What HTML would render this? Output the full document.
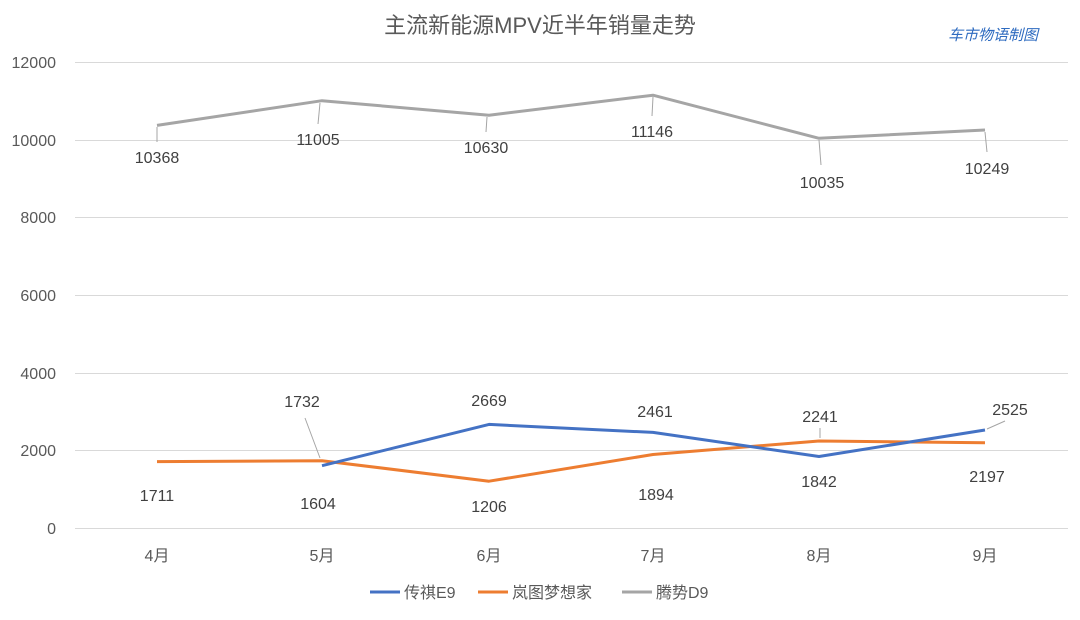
<!DOCTYPE html>
<html><head><meta charset="utf-8"><style>
body{margin:0;background:#fff;}
svg text{font-family:"Liberation Sans","Noto Sans CJK SC",sans-serif;}
</style></head><body>
<svg width="1080" height="615" viewBox="0 0 1080 615" xmlns="http://www.w3.org/2000/svg">
<rect width="1080" height="615" fill="#fff"/>
<text x="540" y="33" text-anchor="middle" font-size="22" fill="#595959">主流新能源MPV近半年销量走势</text>
<text x="993" y="40" text-anchor="middle" font-size="15" fill="#2e6bc0" font-style="italic">车市物语制图</text>
<g stroke="#d9d9d9" stroke-width="1">
<line x1="75" y1="62.5" x2="1068" y2="62.5"/>
<line x1="75" y1="140.5" x2="1068" y2="140.5"/>
<line x1="75" y1="217.5" x2="1068" y2="217.5"/>
<line x1="75" y1="295.5" x2="1068" y2="295.5"/>
<line x1="75" y1="373.5" x2="1068" y2="373.5"/>
<line x1="75" y1="450.5" x2="1068" y2="450.5"/>
<line x1="75" y1="528.5" x2="1068" y2="528.5"/>
</g>
<g font-size="16" fill="#595959" text-anchor="end">
<text x="56" y="68">12000</text><text x="56" y="146">10000</text><text x="56" y="223">8000</text>
<text x="56" y="301">6000</text><text x="56" y="379">4000</text><text x="56" y="456">2000</text><text x="56" y="534">0</text>
</g>
<g font-size="16" fill="#595959" text-anchor="middle">
<text x="157" y="561">4月</text><text x="322" y="561">5月</text><text x="489" y="561">6月</text>
<text x="653" y="561">7月</text><text x="819" y="561">8月</text><text x="985" y="561">9月</text>
</g>
<g stroke="#a5a5a5" stroke-width="1">
<line x1="157" y1="127" x2="157" y2="142"/>
<line x1="320" y1="103" x2="318" y2="124"/>
<line x1="487" y1="117" x2="486" y2="132"/>
<line x1="653" y1="97" x2="652" y2="116"/>
<line x1="819" y1="140" x2="821" y2="165"/>
<line x1="985" y1="132" x2="987" y2="152"/>
<line x1="305" y1="418" x2="320" y2="458"/>
<line x1="987" y1="429" x2="1005" y2="421"/>
<line x1="820" y1="438" x2="820" y2="428"/>
</g>
<polyline fill="none" stroke="#a5a5a5" stroke-width="3" stroke-linejoin="round" points="157,125.4 322,100.7 489,115.2 653,95.2 819,138.3 985,130"/>
<polyline fill="none" stroke="#ed7d31" stroke-width="3" stroke-linejoin="round" points="157,461.6 322,460.7 489,481.2 653,454.5 819,441 985,442.7"/>
<polyline fill="none" stroke="#4472c4" stroke-width="3" stroke-linejoin="round" points="322,465.7 489,424.4 653,432.4 819,456.5 985,430"/>
<g font-size="16" fill="#404040" text-anchor="middle">
<text x="157" y="163">10368</text><text x="318" y="145">11005</text><text x="486" y="153">10630</text>
<text x="652" y="137">11146</text><text x="822" y="188">10035</text><text x="987" y="174">10249</text>
<text x="318" y="509">1604</text><text x="489" y="406">2669</text><text x="655" y="417">2461</text>
<text x="819" y="487">1842</text><text x="1010" y="415">2525</text>
<text x="157" y="501">1711</text><text x="302" y="407">1732</text><text x="489" y="512">1206</text>
<text x="656" y="500">1894</text><text x="820" y="422">2241</text><text x="987" y="482">2197</text>
</g>
<g font-size="16" fill="#595959">
<line x1="370" y1="592" x2="400" y2="592" stroke="#4472c4" stroke-width="3"/>
<text x="404" y="598">传祺E9</text>
<line x1="478" y1="592" x2="508" y2="592" stroke="#ed7d31" stroke-width="3"/>
<text x="512" y="598">岚图梦想家</text>
<line x1="622" y1="592" x2="652" y2="592" stroke="#a5a5a5" stroke-width="3"/>
<text x="656" y="598">腾势D9</text>
</g>
</svg>
</body></html>
